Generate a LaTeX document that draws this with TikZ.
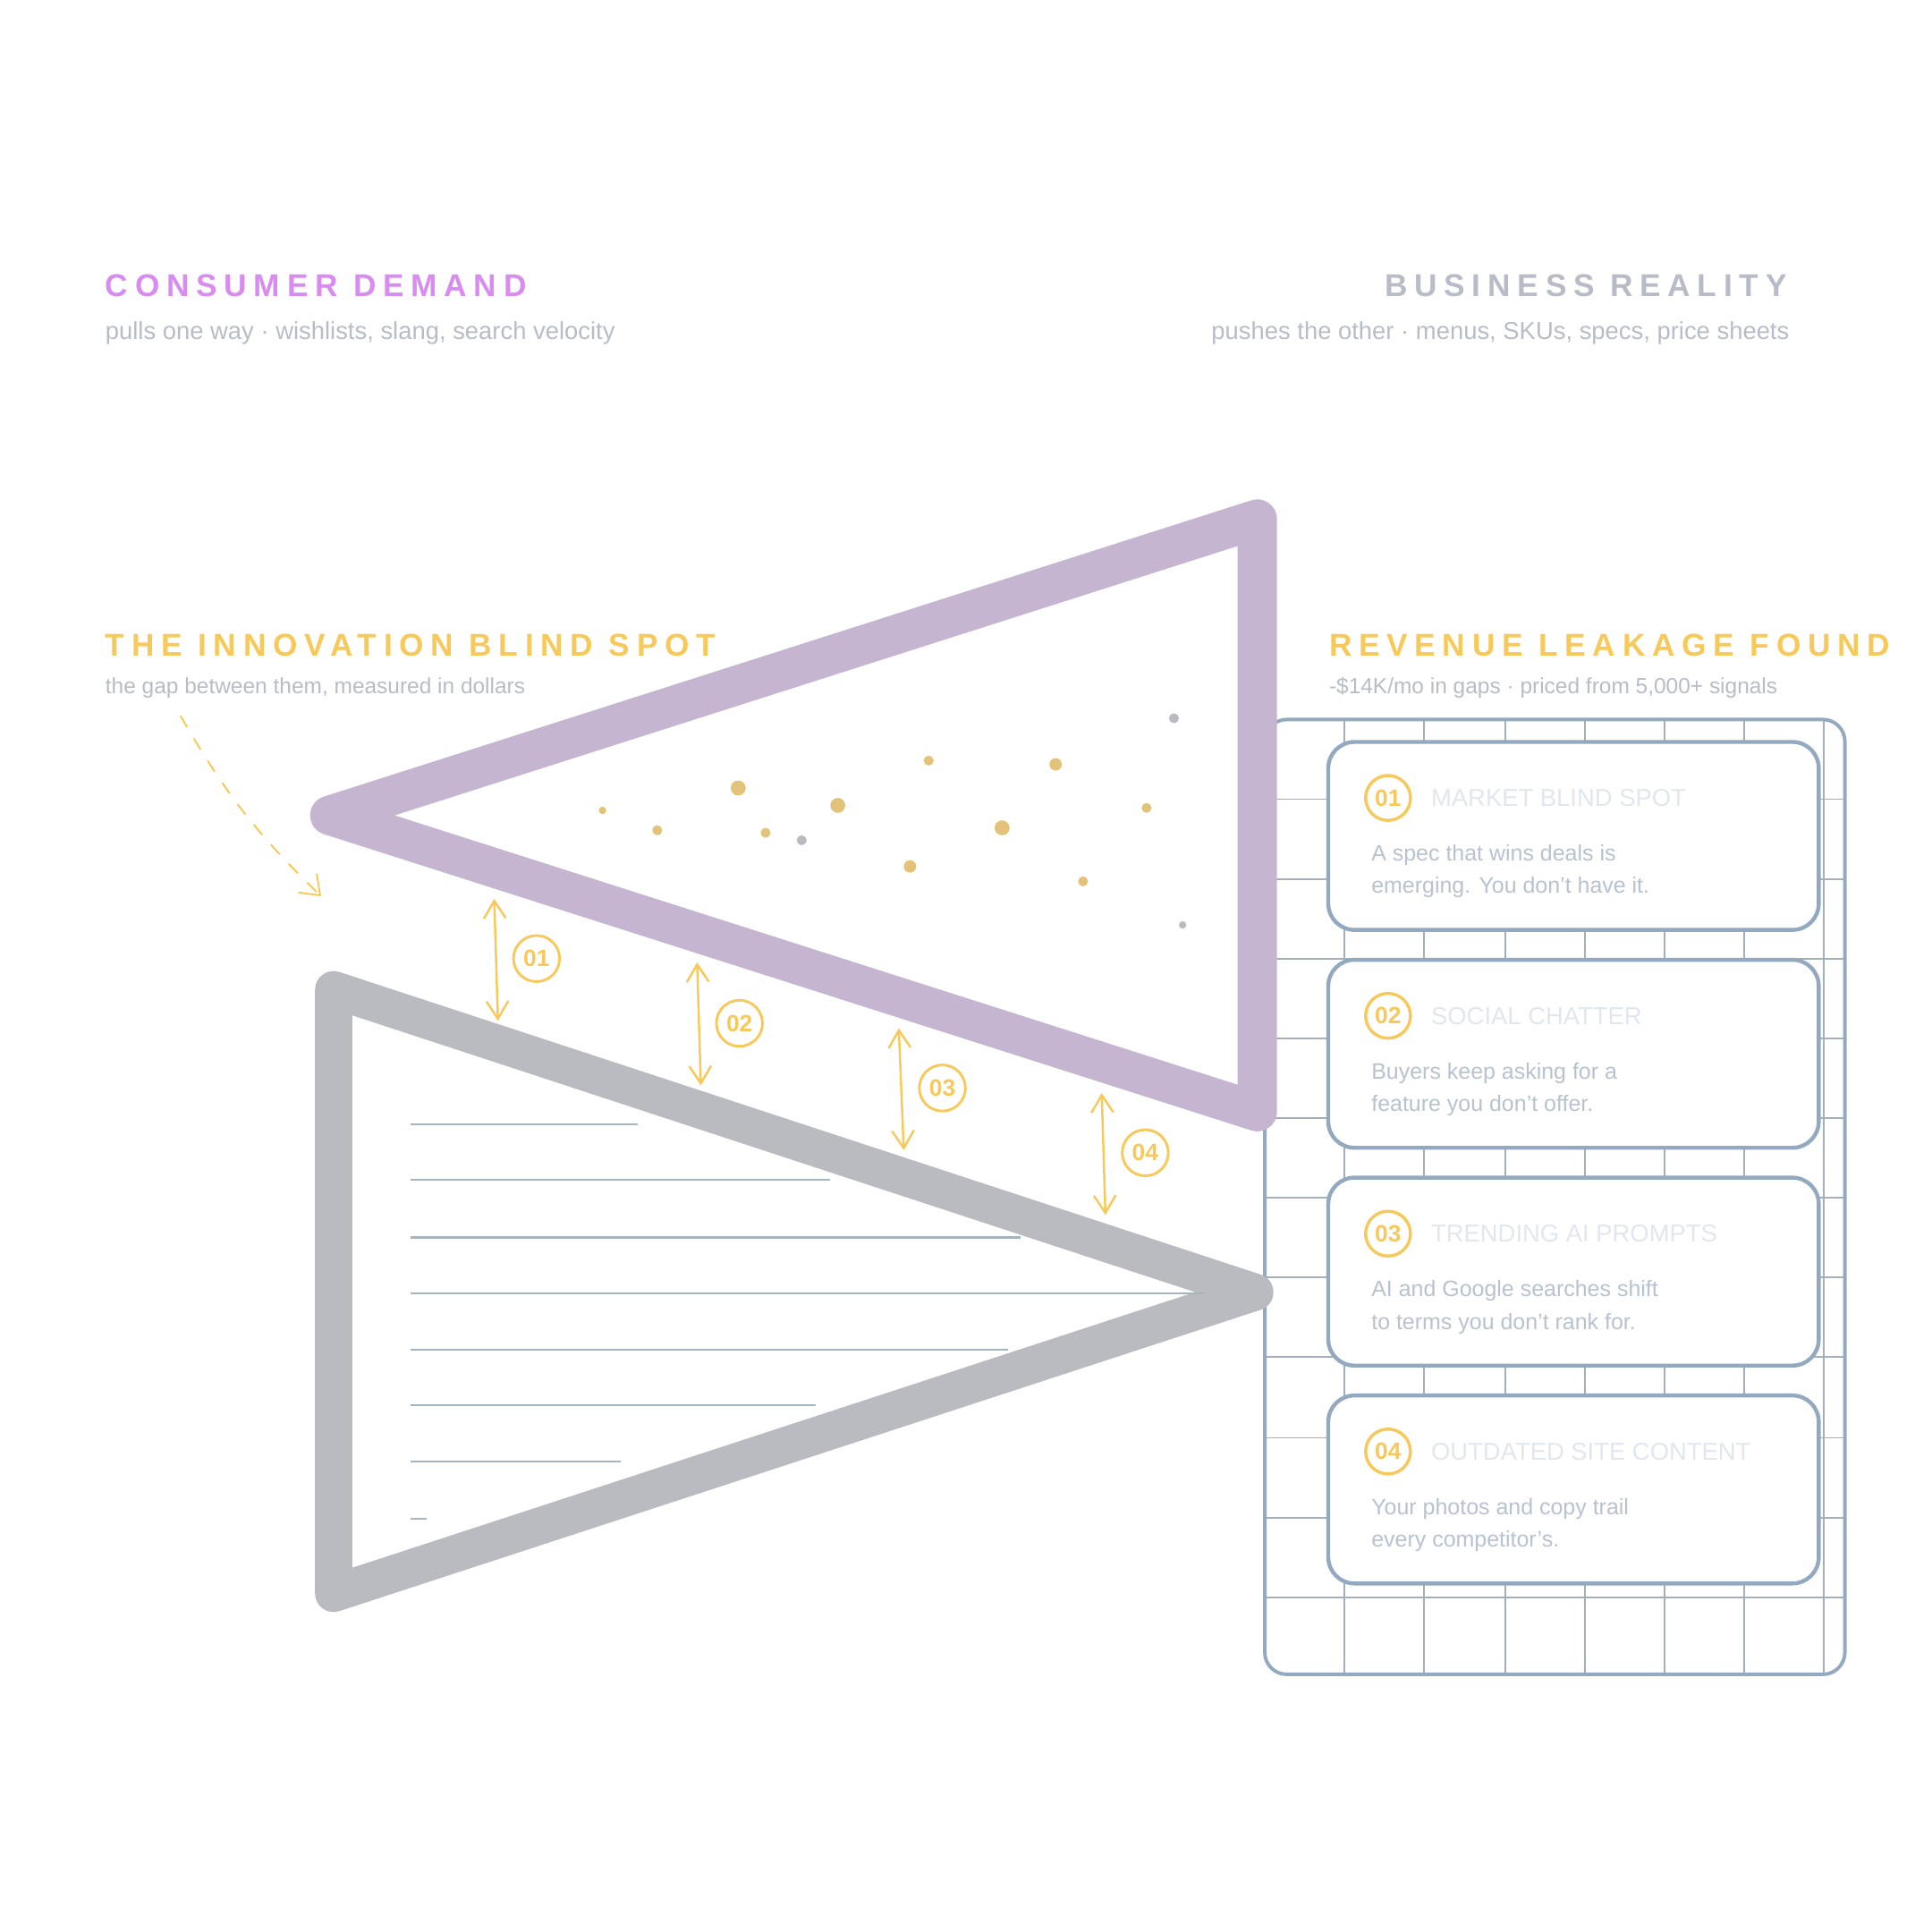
\documentclass[tikz,border=0pt]{standalone}
\usepackage{fontspec}
\setmainfont{Liberation Sans}
\newfontfamily\spaced[LetterSpace=22]{Liberation Sans}
\usetikzlibrary{arrows.meta,positioning}
\definecolor{lilac}{HTML}{C5B5D0}
\definecolor{slate}{HTML}{B9BBC1}
\definecolor{rule}{HTML}{A6B4C0}
\definecolor{gold}{HTML}{F7C95A}
\definecolor{ochre}{HTML}{E3C27A}
\definecolor{pinkish}{HTML}{D98CF0}
\definecolor{mute}{HTML}{B8BCC6}
\definecolor{steel}{HTML}{93A9BF}
\definecolor{gridc}{HTML}{A4AFBC}
\definecolor{pale}{HTML}{E2E6EE}
\definecolor{body}{HTML}{B8C2D0}
\begin{document}
\begin{tikzpicture}[x=0.01cm,y=-0.01cm,
    head/.style={anchor=base west, font=\spaced\fontsize{7.2}{8}\selectfont\bfseries, inner sep=0},
    sub/.style={anchor=base west, font=\fontsize{5.6}{7}\selectfont, text=mute, inner sep=0},
    gap/.style={<->, >={Straight Barb[length=4pt,width=5pt]}, gold, line width=0.5pt},
    tag/.style={circle, draw=gold, text=gold, line width=0.6pt, minimum size=0.37cm, inner sep=0, font=\fontsize{5.4}{6}\selectfont\bfseries},
    card/.style={draw=steel, fill=white, line width=0.9pt, rounded corners=6pt},
    ctitle/.style={anchor=west, text=pale, font=\fontsize{5.6}{6}\selectfont, inner sep=0},
    cbody/.style={anchor=north west, text=body, font=\fontsize{5.1}{7.4}\selectfont, align=left, inner sep=0},
    dot/.style={circle, fill=ochre, inner sep=0}
]
\useasboundingbox (0,0) rectangle (1552,1552);

% headings
\node[head, text=pinkish] (cd) at (84,238) {CONSUMER DEMAND};
\node[sub] (cds) at (84,273) {pulls one way · wishlists, slang, search velocity};
\node[head, text=mute, anchor=base east] (br) at (1436,238) {BUSINESS REALITY};
\node[sub, anchor=base east] (brs) at (1438,273) {pushes the other · menus, SKUs, specs, price sheets};
\node[head, text=gold] (ib) at (84,527) {THE INNOVATION BLIND SPOT};
\node[sub, font=\fontsize{5}{6}\selectfont] (ibs) at (84,557) {the gap between them, measured in dollars};
\node[head, text=gold] (rl) at (1067,527) {REVENUE LEAKAGE FOUND};
\node[sub, font=\fontsize{5}{6}\selectfont] (rls) at (1067,557) {-\$14K/mo in gaps · priced from 5,000+ signals};

% grid panel
\draw[gridc, line width=0.4pt] (1016,642) -- (1482,642);
\foreach \y in {642,706,770,834,898,962,1026,1090,1155,1219,1283}
  \draw[gridc, line width=0.4pt] (1016,\y) -- (1482,\y);
\foreach \x in {1080,1144,1209,1273,1337,1401,1465}
  \draw[gridc, line width=0.4pt] (\x,578) -- (\x,1345);
\draw[steel, line width=0.8pt, rounded corners=5pt] (1016,578) rectangle (1482,1345);

% two triangles
\draw[slate, line width=8.5pt, line join=round] (268,795) -- (1008,1038) -- (268,1280) -- cycle;
\foreach \y/\e in {903/512,948/667,994/820,1039/968,1084/810,1129/655,1174/499,1220/343}
  \draw[rule, line width=0.45pt] (330,\y) -- (\e,\y);
\draw[lilac, line width=9pt, line join=round] (265,655) -- (1010,417) -- (1010,893) -- cycle;

% signals
\foreach \x/\y/\r in {484/651/3,528/667/4,593/633/6,615/669/4,673/647/6,746/611/4,731/696/5,805/665/6,848/614/5,870/708/4,921/649/4}
  \node[dot, minimum size=2*\r*0.01cm] at (\x,\y) {};
\foreach \x/\y/\r in {644/675/4,943/577/4,950/743/3}
  \node[dot, fill=slate, minimum size=2*\r*0.01cm] at (\x,\y) {};

% gaps
\coordinate (g1a) at (397,722); \coordinate (g1b) at (400,820);
\coordinate (g2a) at (560,773); \coordinate (g2b) at (563,872);
\coordinate (g3a) at (722,826); \coordinate (g3b) at (726,924);
\coordinate (g4a) at (885,878); \coordinate (g4b) at (888,976);
\draw[gap] (g1a) -- (g1b);
\draw[gap] (g2a) -- (g2b);
\draw[gap] (g3a) -- (g3b);
\draw[gap] (g4a) -- (g4b);
\node[tag] (t1) at (431,770) {01};
\node[tag] (t2) at (594,822) {02};
\node[tag] (t3) at (757,874) {03};
\node[tag] (t4) at (920,926) {04};

% pointer to the spot
\coordinate (p0) at (145,575);
\coordinate (p1) at (258,720);
\draw[gold, dashed, line width=0.4pt, -{Straight Barb[length=4pt,width=6pt]}] (p0) to[bend right=8] (p1);

% cards
\foreach \i/\y/\ti/\la/\lb in {
  1/596/MARKET BLIND SPOT/A spec that wins deals is/emerging. You don’t have it.,
  2/771/SOCIAL CHATTER/Buyers keep asking for a/feature you don’t offer.,
  3/946/TRENDING AI PROMPTS/AI and Google searches shift/to terms you don’t rank for.,
  4/1121/OUTDATED SITE CONTENT/Your photos and copy trail/every competitor’s.}{
  \draw[card] (1067,\y) rectangle (1461,\y+151);
  \node[tag, line width=0.7pt, minimum size=0.36cm] (c\i) at (1115,\y+45) {0\i};
  \node[ctitle] (ct\i) at (1149,\y+45) {\ti};
  \node[cbody] (cb\i) at (1101,\y+82) {\la\\\lb};
}
\end{tikzpicture}
\end{document}
